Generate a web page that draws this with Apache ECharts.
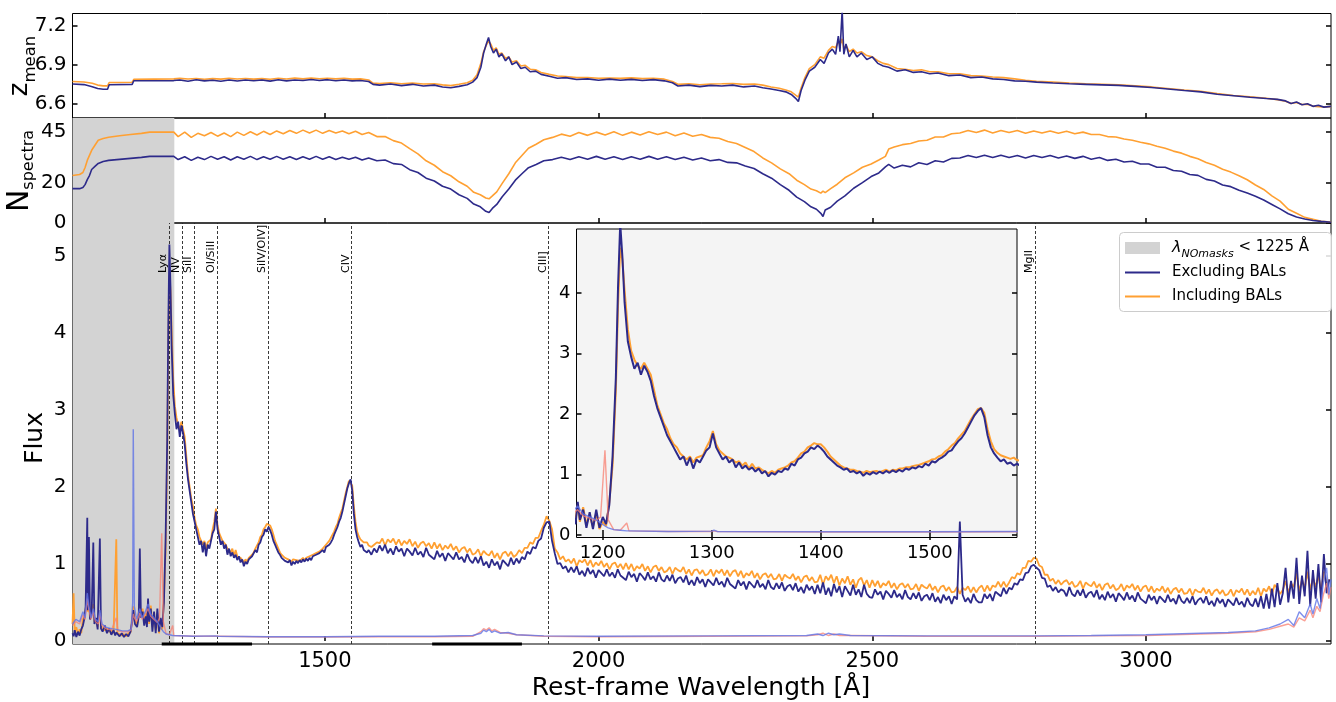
<!DOCTYPE html>
<html><head><meta charset="utf-8">
<script src="https://cdn.jsdelivr.net/npm/echarts@6/dist/echarts.min.js"></script>
<style>html,body{margin:0;padding:0;background:#fff}#c{width:1336px;height:702px}</style>
</head><body><div id="c"></div><script>
// ---------------- DATA ----------------
const xTicks = [1500, 2000, 2500, 3000];
const zTicks = [6.6, 6.9, 7.2];
const nTicks = [0, 20, 45];
const fluxTicks = [0, 1, 2, 3, 4, 5];
const insetXTicks = [1200, 1300, 1400, 1500];
const insetYTicks = [0, 1, 2, 3, 4];
const greyEnd = 1225;
const lineWaves = [1216, 1240, 1262, 1304, 1396, 1549, 1909, 2798];
const lineNames = ['Lyα', 'NV', 'SiII', 'OI/SiII', 'SiIV/OIV]', 'CIV', 'CIII]', 'MgII'];
const axisBarWave = [1202, 1367, 1696, 1860];

// blue side (<1600 A)
const fluxWaveBlue = [
1039,1041,1043,1046,1049,1052,1055,1058,1061,1063,
1066,1067,1069,1071,1074,1077,1079,1082,1085,1089,
1091,1094,1098,1102,1106,1110,1114,1117,1119,1121,
1125,1129,1133,1137,1141,1145,1148,1150,1153,1157,
1160,1162,1164,1167,1170,1173,1175,1177,1179,1182,
1185,1188,1191,1194,1197,1200,1203,1206,1209,1212,
1214,1216,1218,1220,
1223,1226,1229,1232,1235,1238,1241,1244,1247,1250,
1253,1256,1259,1262,1265,1268,1271,1274,1277,1280,
1283,1286,1289,1292,1295,1298,1301,1304,1307,1310,
1313,1316,1319,1322,1325,1328,1331,1334,1337,1340,
1343,1346,1349,1352,1355,1358,1361,1364,1367,1370,
1373,1376,1379,1382,1385,1388,1391,1394,1397,1400,
1403,1406,1409,1412,1415,1418,1421,1424,1427,1430,
1433,1436,1439,1442,1445,1448,1451,1454,1457,1460,
1463,1466,1469,1472,1475,1478,1481,1484,1487,1490,
1493,1496,1499,1502,1505,1508,1511,1514,1517,1520,
1523,1526,1529,1532,1535,1538,1541,1544,1547,1550,
1553,1556,1559,1562,1565,1568,1571,1574,1577,1580,
1585,1590,1595];
const fluxExclBlue = [
0.10,0.06,0.14,0.05,0.12,0.07,0.15,0.20,0.30,0.45,
1.60,0.40,1.35,0.28,0.35,1.28,0.22,0.30,0.15,1.33,
0.16,0.12,0.20,0.10,0.16,0.08,0.14,0.07,0.11,0.09,
0.06,0.10,0.05,0.09,0.06,0.12,0.25,0.40,0.22,0.18,
0.32,1.20,0.30,0.38,0.20,0.32,0.18,0.55,0.25,0.42,
0.12,0.38,0.10,0.42,0.12,0.30,0.18,0.50,1.30,2.60,
4.10,5.15,4.60,3.85,
3.20,2.95,2.75,2.85,2.65,2.80,2.70,2.55,2.30,2.10,
1.95,1.80,1.65,1.55,1.45,1.35,1.25,1.30,1.15,1.28,
1.10,1.25,1.20,1.30,1.40,1.45,1.68,1.45,1.35,1.25,
1.30,1.20,1.25,1.12,1.20,1.10,1.15,1.08,1.12,1.05,
1.10,1.02,1.06,0.97,1.03,1.00,1.06,1.04,1.10,1.08,
1.18,1.15,1.25,1.28,1.35,1.38,1.45,1.42,1.48,1.44,
1.38,1.30,1.25,1.20,1.15,1.12,1.08,1.10,1.04,1.06,
1.02,1.05,0.98,1.03,1.00,1.04,1.01,1.05,1.02,1.06,
1.03,1.07,1.04,1.08,1.05,1.10,1.08,1.12,1.10,1.14,
1.12,1.18,1.15,1.22,1.20,1.25,1.28,1.32,1.38,1.40,
1.48,1.55,1.60,1.68,1.78,1.88,1.98,2.05,2.10,1.95,
1.65,1.45,1.35,1.28,1.22,1.25,1.18,1.20,1.15,1.18,
1.12,1.20,1.15];
const fluxInclBlue = [
0.22,0.62,0.12,0.18,0.08,0.15,0.10,0.28,0.32,0.40,
0.62,0.38,0.45,0.30,0.32,0.48,0.25,0.28,0.18,0.40,
0.20,0.15,0.14,0.16,0.12,0.14,0.10,0.12,1.32,0.10,
0.09,0.07,0.09,0.06,0.10,0.11,0.30,0.45,0.28,0.20,
0.36,0.48,0.32,0.42,0.28,0.36,0.25,0.50,0.22,0.46,
0.18,0.32,0.14,0.36,0.10,0.22,0.15,0.55,1.15,2.40,
3.80,4.75,4.55,4.05,
3.40,3.05,2.90,2.80,2.75,2.85,2.75,2.65,2.40,2.15,
2.00,1.85,1.75,1.60,1.50,1.45,1.35,1.30,1.25,1.30,
1.20,1.28,1.30,1.32,1.45,1.55,1.72,1.50,1.40,1.35,
1.30,1.28,1.25,1.20,1.22,1.15,1.20,1.10,1.18,1.10,
1.12,1.08,1.05,1.02,1.06,1.03,1.08,1.10,1.12,1.15,
1.20,1.22,1.28,1.35,1.38,1.45,1.48,1.52,1.50,1.50,
1.45,1.38,1.30,1.25,1.20,1.15,1.12,1.10,1.08,1.08,
1.06,1.05,1.03,1.06,1.04,1.05,1.06,1.04,1.06,1.08,
1.05,1.08,1.07,1.10,1.10,1.12,1.12,1.14,1.15,1.16,
1.18,1.20,1.22,1.25,1.26,1.30,1.32,1.38,1.42,1.48,
1.52,1.60,1.66,1.72,1.82,1.92,2.00,2.08,2.10,2.02,
1.75,1.55,1.42,1.36,1.32,1.30,1.28,1.26,1.28,1.24,
1.22,1.25,1.28];

// red side (>=1600 A, 5 A steps)
const fluxWaveRed = [
1600,1605,1610,1615,1620,1625,1630,1635,1640,1645,
1650,1655,1660,1665,1670,1675,1680,1685,1690,1695,
1700,1705,1710,1715,1720,1725,1730,1735,1740,1745,
1750,1755,1760,1765,1770,1775,1780,1785,1790,1795,
1800,1805,1810,1815,1820,1825,1830,1835,1840,1845,
1850,1855,1860,1865,1870,1875,1880,1885,1890,1895,
1900,1905,1910,1915,1920,1925,1930,1935,1940,1945,
1950,1955,1960,1965,1970,1975,1980,1985,1990,1995,
2000,2005,2010,2015,2020,2025,2030,2035,2040,2045,
2050,2055,2060,2065,2070,2075,2080,2085,2090,2095,
2100,2105,2110,2115,2120,2125,2130,2135,2140,2145,
2150,2155,2160,2165,2170,2175,2180,2185,2190,2195,
2200,2205,2210,2215,2220,2225,2230,2235,2240,2245,
2250,2255,2260,2265,2270,2275,2280,2285,2290,2295,
2300,2305,2310,2315,2320,2325,2330,2335,2340,2345,
2350,2355,2360,2365,2370,2375,2380,2385,2390,2395,
2400,2405,2410,2415,2420,2425,2430,2435,2440,2445,
2450,2455,2460,2465,2470,2475,2480,2485,2490,2495,
2500,2505,2510,2515,2520,2525,2530,2535,2540,2545,
2550,2555,2560,2565,2570,2575,2580,2585,2590,2595,
2600,2605,2610,2615,2620,2625,2630,2635,2640,2645,
2650,2655,2660,2665,2670,2675,2680,2685,2690,2695,
2700,2705,2710,2715,2720,2725,2730,2735,2740,2745,
2750,2755,2760,2765,2770,2775,2780,2785,2790,2795,
2800,2805,2810,2815,2820,2825,2830,2835,2840,2845,
2850,2855,2860,2865,2870,2875,2880,2885,2890,2895,
2900,2905,2910,2915,2920,2925,2930,2935,2940,2945,
2950,2955,2960,2965,2970,2975,2980,2985,2990,2995,
3000,3005,3010,3015,3020,3025,3030,3035,3040,3045,
3050,3055,3060,3065,3070,3075,3080,3085,3090,3095,
3100,3105,3110,3115,3120,3125,3130,3135,3140,3145,
3150,3155,3160,3165,3170,3175,3180,3185,3190,3195,
3200,3205,3210,3215,3220,3225,3230,3235,3240,3245,
3250,3255,3260,3265,3270,3275,3280,3285,3290,3295,
3300,3305,3310,3315,3320,3325,3330,3335];
const fluxExclRed = [
1.24,1.17,1.25,1.14,1.20,1.12,1.23,1.16,1.20,1.10,
1.20,1.16,1.11,1.21,1.12,1.16,1.09,1.21,1.12,1.09,
1.06,1.17,1.09,1.14,1.04,1.14,1.10,1.06,1.15,1.06,
1.09,1.02,1.13,1.05,1.01,1.09,1.01,1.10,0.98,1.03,
0.95,1.06,0.98,1.03,0.93,1.05,1.01,0.97,1.08,0.99,
1.07,1.01,1.09,1.06,1.16,1.13,1.22,1.20,1.30,1.33,
1.47,1.54,1.55,1.30,1.14,1.00,1.01,0.94,0.97,0.89,
0.96,0.89,0.97,0.86,0.91,0.84,0.95,0.87,0.92,0.82,
0.92,0.88,0.84,0.93,0.84,0.89,0.82,0.93,0.85,0.82,
0.79,0.90,0.83,0.87,0.77,0.88,0.84,0.79,0.89,0.80,
0.84,0.77,0.89,0.80,0.77,0.85,0.78,0.86,0.75,0.81,
0.83,0.76,0.85,0.73,0.79,0.72,0.83,0.75,0.80,0.70,
0.80,0.76,0.72,0.82,0.73,0.77,0.70,0.82,0.74,0.71,
0.68,0.79,0.72,0.77,0.67,0.77,0.73,0.69,0.79,0.70,
0.74,0.67,0.79,0.70,0.67,0.75,0.68,0.76,0.65,0.71,
0.73,0.66,0.75,0.64,0.70,0.62,0.73,0.66,0.71,0.61,
0.73,0.62,0.76,0.60,0.69,0.58,0.74,0.63,0.71,0.57,
0.71,0.65,0.59,0.73,0.60,0.67,0.57,0.73,0.61,0.57,
0.56,0.67,0.60,0.64,0.54,0.65,0.61,0.56,0.66,0.57,
0.61,0.54,0.66,0.57,0.54,0.62,0.55,0.63,0.52,0.58,
0.60,0.53,0.62,0.51,0.57,0.49,0.60,0.53,0.58,0.48,
0.58,0.54,1.55,0.60,0.51,0.56,0.49,0.61,0.53,0.50,
0.50,0.61,0.55,0.61,0.52,0.64,0.61,0.58,0.69,0.61,
0.69,0.67,0.75,0.73,0.80,0.79,0.88,0.89,0.97,0.99,
0.95,0.92,0.82,0.81,0.70,0.72,0.65,0.70,0.63,0.67,
0.65,0.58,0.70,0.61,0.58,0.66,0.59,0.67,0.56,0.62,
0.64,0.57,0.66,0.54,0.60,0.53,0.64,0.56,0.61,0.51,
0.62,0.58,0.53,0.63,0.54,0.59,0.51,0.63,0.55,0.52,
0.49,0.60,0.53,0.58,0.48,0.58,0.54,0.50,0.60,0.51,
0.55,0.48,0.60,0.52,0.49,0.56,0.49,0.58,0.47,0.53,
0.56,0.49,0.58,0.47,0.52,0.45,0.56,0.49,0.54,0.44,
0.54,0.50,0.46,0.56,0.47,0.51,0.44,0.56,0.48,0.45,
0.55,0.44,0.58,0.42,0.61,0.42,0.68,0.44,0.75,0.47,
0.62,0.95,0.50,0.78,0.55,1.08,0.48,0.85,0.58,1.17,
0.45,0.92,0.55,1.00,0.50,1.13,0.62,0.80];
const fluxInclRed = [
1.27,1.33,1.24,1.32,1.28,1.33,1.25,1.32,1.24,1.30,
1.26,1.32,1.23,1.29,1.21,1.27,1.29,1.23,1.27,1.20,
1.28,1.20,1.26,1.18,1.24,1.20,1.26,1.18,1.23,1.15,
1.20,1.22,1.15,1.20,1.12,1.14,1.19,1.10,1.17,1.13,
1.11,1.17,1.08,1.14,1.06,1.14,1.16,1.10,1.16,1.09,
1.12,1.18,1.14,1.21,1.21,1.28,1.26,1.34,1.34,1.43,
1.51,1.62,1.56,1.45,1.20,1.15,1.06,1.10,1.03,1.06,
1.01,1.07,0.97,1.05,1.02,1.06,0.98,1.05,0.96,1.02,
0.98,1.04,0.96,1.01,0.93,1.00,1.02,0.95,1.00,0.93,
1.01,0.93,1.00,0.91,0.97,0.94,1.00,0.91,0.97,0.89,
0.96,0.98,0.91,0.96,0.89,0.91,0.96,0.87,0.95,0.92,
0.90,0.96,0.87,0.93,0.85,0.92,0.93,0.87,0.92,0.85,
0.87,0.93,0.84,0.92,0.88,0.93,0.85,0.92,0.84,0.90,
0.92,0.84,0.91,0.82,0.88,0.85,0.91,0.82,0.88,0.80,
0.86,0.88,0.82,0.87,0.80,0.81,0.87,0.78,0.86,0.83,
0.81,0.87,0.79,0.84,0.76,0.83,0.85,0.78,0.83,0.76,
0.77,0.86,0.73,0.84,0.79,0.86,0.75,0.84,0.72,0.81,
0.75,0.84,0.73,0.80,0.69,0.79,0.82,0.72,0.79,0.69,
0.79,0.71,0.78,0.69,0.75,0.72,0.78,0.69,0.75,0.67,
0.73,0.75,0.69,0.74,0.67,0.68,0.74,0.65,0.73,0.70,
0.68,0.74,0.66,0.71,0.63,0.70,0.72,0.65,0.70,0.63,
0.64,0.70,0.61,0.69,0.66,0.71,0.63,0.70,0.63,0.69,
0.72,0.64,0.72,0.65,0.72,0.70,0.77,0.70,0.77,0.70,
0.76,0.83,0.81,0.88,0.86,0.95,0.95,1.04,1.03,1.08,
1.07,0.98,0.96,0.86,0.86,0.78,0.81,0.74,0.79,0.73,
0.77,0.79,0.73,0.77,0.70,0.72,0.78,0.68,0.76,0.73,
0.71,0.77,0.69,0.74,0.66,0.73,0.75,0.68,0.73,0.66,
0.68,0.74,0.65,0.72,0.69,0.74,0.66,0.72,0.64,0.70,
0.72,0.64,0.71,0.63,0.68,0.65,0.71,0.63,0.69,0.61,
0.67,0.69,0.63,0.68,0.61,0.62,0.68,0.59,0.67,0.64,
0.63,0.69,0.61,0.67,0.59,0.65,0.67,0.61,0.66,0.59,
0.61,0.67,0.58,0.66,0.63,0.68,0.60,0.67,0.59,0.65,
0.60,0.69,0.58,0.68,0.64,0.71,0.60,0.73,0.68,0.61,
0.66,0.78,0.62,0.75,0.70,0.88,0.64,0.80,0.68,0.90,
0.66,0.82,0.70,0.85,0.65,0.90,0.72,0.80];

const errWave = [1039,1045,1052,1058,1062,1066,1069,1073,1077,1081,1086,1089,1093,1100,1110,1119,1122,1130,1140,1146,1149,1150,1152,1156,1162,1166,1172,1177,1182,1188,1194,1198,1202,1205,1210,1216,1222,1224,1260,1300,1302,1305,1400,1500,1600,1700,1770,1785,1790,1795,1800,1805,1810,1820,1835,1850,1900,2000,2200,2380,2400,2410,2420,2430,2440,2460,2600,2800,2900,3000,3100,3150,3200,3225,3245,3260,3270,3280,3290,3300,3305,3312,3318,3324,3330,3334,3338];
const errExcl = [0.22,0.28,0.25,0.38,0.30,0.62,0.45,0.30,0.42,0.28,0.25,0.40,0.22,0.18,0.16,0.15,0.14,0.13,0.13,0.15,0.50,2.75,0.45,0.28,0.42,0.30,0.38,0.48,0.35,0.30,0.25,0.20,0.15,0.12,0.09,0.08,0.07,0.07,0.06,0.065,0.08,0.06,0.055,0.055,0.06,0.06,0.07,0.10,0.14,0.12,0.15,0.11,0.13,0.10,0.11,0.08,0.065,0.06,0.065,0.07,0.09,0.07,0.10,0.08,0.09,0.07,0.065,0.065,0.07,0.08,0.10,0.11,0.13,0.17,0.22,0.28,0.20,0.38,0.30,0.48,0.35,0.55,0.42,0.75,0.95,0.60,0.80];
const errIncl = [0.20,0.25,0.22,0.34,0.28,0.55,0.40,0.28,0.38,0.25,0.22,0.36,0.20,0.16,0.14,0.30,0.13,0.12,0.12,0.14,0.30,0.35,0.30,0.25,0.36,0.28,0.35,0.42,0.32,0.28,0.24,0.30,1.40,0.25,0.09,0.08,0.20,0.07,0.06,0.06,0.07,0.06,0.05,0.05,0.055,0.055,0.06,0.12,0.16,0.14,0.17,0.13,0.15,0.11,0.10,0.08,0.06,0.055,0.06,0.065,0.08,0.10,0.07,0.09,0.07,0.07,0.06,0.06,0.065,0.07,0.09,0.10,0.12,0.15,0.19,0.22,0.18,0.30,0.26,0.40,0.30,0.45,0.38,0.60,0.75,0.55,0.70];

const zWave = [1039,1060,1075,1085,1095,1103,1106,1148,1151,1224,1235,1250,1265,1280,1295,1310,1325,1340,1355,1370,1385,1400,1415,1430,1445,1460,1475,1490,1505,1520,1535,1550,1565,1580,1588,1600,1620,1640,1660,1680,1700,1715,1730,1745,1760,1770,1778,1785,1790,1795,1799,1803,1808,1813,1818,1823,1830,1836,1842,1850,1858,1866,1875,1885,1895,1910,1925,1940,1960,1980,2000,2020,2040,2060,2080,2100,2120,2135,2145,2165,2185,2205,2225,2245,2265,2285,2300,2315,2330,2342,2352,2360,2365,2370,2377,2385,2395,2405,2412,2420,2427,2433,2438,2441,2445,2448,2452,2458,2465,2472,2480,2490,2500,2510,2520,2530,2545,2560,2575,2590,2605,2620,2640,2660,2680,2700,2720,2740,2760,2780,2800,2830,2860,2890,2920,2950,2980,3010,3040,3070,3100,3130,3160,3190,3220,3240,3255,3265,3275,3285,3295,3305,3315,3325,3338];
const zExcl = [6.750,6.746,6.730,6.716,6.710,6.710,6.745,6.748,6.776,6.777,6.781,6.772,6.783,6.775,6.780,6.772,6.781,6.774,6.782,6.776,6.781,6.773,6.784,6.775,6.782,6.777,6.785,6.778,6.784,6.776,6.782,6.775,6.778,6.770,6.748,6.742,6.750,6.738,6.748,6.735,6.742,6.728,6.722,6.732,6.745,6.765,6.800,6.880,6.990,7.060,7.110,7.040,6.990,7.020,6.960,6.985,6.930,6.960,6.900,6.920,6.870,6.880,6.845,6.850,6.825,6.810,6.795,6.800,6.785,6.790,6.780,6.788,6.779,6.786,6.778,6.784,6.775,6.760,6.735,6.742,6.730,6.740,6.735,6.742,6.728,6.735,6.722,6.712,6.700,6.690,6.670,6.640,6.615,6.700,6.780,6.850,6.880,6.940,6.910,6.990,7.020,6.980,7.120,7.000,7.320,6.980,7.060,6.960,7.010,6.960,6.990,6.940,6.960,6.910,6.890,6.880,6.850,6.860,6.840,6.845,6.830,6.835,6.815,6.820,6.800,6.805,6.790,6.785,6.775,6.772,6.765,6.758,6.752,6.748,6.744,6.740,6.732,6.724,6.712,6.700,6.690,6.672,6.660,6.648,6.638,6.632,6.620,6.600,6.612,6.590,6.598,6.578,6.586,6.572,6.578];
const zIncl = [6.770,6.766,6.756,6.742,6.736,6.736,6.762,6.764,6.786,6.790,6.794,6.789,6.793,6.787,6.792,6.788,6.794,6.789,6.793,6.788,6.792,6.787,6.795,6.789,6.796,6.790,6.797,6.791,6.795,6.790,6.794,6.788,6.790,6.782,6.758,6.754,6.760,6.752,6.758,6.750,6.752,6.744,6.738,6.748,6.760,6.780,6.822,6.910,7.000,7.050,7.080,7.060,7.010,7.030,6.980,6.990,6.950,6.960,6.920,6.930,6.890,6.895,6.865,6.860,6.840,6.825,6.812,6.808,6.800,6.800,6.795,6.797,6.794,6.798,6.792,6.795,6.788,6.770,6.748,6.752,6.745,6.750,6.752,6.755,6.748,6.750,6.742,6.728,6.718,6.705,6.690,6.665,6.650,6.720,6.800,6.870,6.900,6.960,6.950,7.010,7.040,7.030,7.080,7.050,7.100,7.020,7.050,7.000,7.020,6.990,7.000,6.970,6.960,6.930,6.910,6.900,6.870,6.865,6.855,6.860,6.845,6.845,6.830,6.830,6.815,6.812,6.805,6.800,6.790,6.780,6.772,6.765,6.758,6.752,6.748,6.744,6.736,6.728,6.716,6.704,6.694,6.676,6.662,6.652,6.640,6.630,6.618,6.600,6.608,6.592,6.594,6.580,6.576,6.574,6.576];

const nWave = [1039,1052,1058,1062,1066,1070,1074,1080,1086,1095,1105,1125,1145,1165,1180,1224,1232,1244,1256,1268,1280,1292,1304,1316,1328,1340,1352,1364,1376,1388,1400,1412,1424,1436,1448,1460,1472,1484,1496,1508,1520,1532,1544,1556,1568,1580,1595,1610,1625,1640,1655,1670,1685,1700,1715,1730,1745,1760,1772,1784,1794,1800,1806,1814,1824,1836,1848,1860,1872,1886,1900,1916,1932,1948,1964,1980,1996,2012,2028,2044,2060,2076,2092,2108,2124,2140,2156,2172,2188,2204,2220,2236,2252,2268,2284,2300,2316,2332,2348,2362,2376,2388,2398,2406,2410,2414,2424,2436,2450,2466,2482,2498,2512,2524,2530,2540,2555,2570,2585,2600,2615,2630,2645,2660,2675,2690,2705,2720,2735,2750,2765,2780,2795,2810,2825,2840,2855,2870,2885,2900,2915,2930,2945,2960,2975,2990,3005,3020,3035,3050,3065,3080,3095,3110,3125,3140,3155,3170,3185,3200,3215,3230,3245,3260,3275,3290,3305,3320,3338];
const nExcl = [17.0,17.0,17.6,19.0,21.5,23.5,26.5,28.0,29.5,30.5,31.0,31.5,32.0,32.5,33.0,33.0,31.4,32.8,31.0,32.6,31.4,33.0,31.6,32.8,31.2,32.8,31.6,33.0,31.4,32.8,31.6,33.0,31.6,32.8,31.4,32.8,31.6,33.0,31.6,32.8,31.4,32.6,31.6,32.6,31.2,32.2,30.8,31.2,29.4,29.0,26.4,25.0,22.2,20.8,18.2,16.8,14.0,12.2,9.4,8.0,5.8,5.2,7.2,9.2,13.0,16.8,21.2,24.4,27.4,29.0,30.8,31.4,32.6,31.4,32.8,31.6,33.0,31.6,32.8,31.4,32.8,31.6,33.0,31.6,32.8,31.4,32.6,31.2,32.2,30.8,31.4,30.0,29.8,28.2,27.0,24.4,22.2,19.0,16.2,12.8,10.6,8.0,6.8,4.8,3.2,6.4,7.8,10.8,13.4,17.2,20.0,23.0,24.8,27.8,29.0,27.2,28.6,27.8,29.8,29.0,30.8,30.2,32.0,32.2,33.4,32.4,33.6,32.4,33.6,32.4,33.4,32.2,33.4,32.4,33.4,32.2,33.2,32.0,33.0,31.6,32.4,31.0,31.6,30.2,30.6,29.2,29.2,27.6,27.6,26.0,25.6,24.0,23.6,21.6,20.8,18.8,18.0,16.2,14.8,13.2,11.4,9.2,7.0,4.6,3.0,2.0,1.2,0.8,0.4];
const nIncl = [23.5,24.0,25.0,27.5,31.0,33.5,36.0,38.5,41.0,41.8,42.5,43.2,43.8,44.4,45.0,45.0,42.8,45.0,42.4,44.4,43.2,44.8,43.0,44.6,42.8,45.0,43.4,45.2,43.6,45.4,43.8,45.6,44.2,45.8,44.4,46.0,44.6,46.0,44.4,45.8,44.6,45.6,44.2,45.4,43.8,44.8,42.8,42.8,40.8,39.6,36.8,34.2,30.8,28.6,25.4,23.4,20.4,18.2,15.2,14.0,12.4,12.0,13.4,15.4,19.6,24.4,29.8,33.4,37.0,39.0,41.2,42.4,44.0,43.0,44.8,43.4,45.0,43.6,45.2,43.4,45.0,43.6,45.2,43.8,45.0,43.2,44.6,43.0,43.8,42.4,42.0,40.4,39.4,37.4,35.4,32.2,29.8,26.8,24.4,21.2,19.0,16.8,16.0,14.8,15.8,15.0,17.0,19.2,22.4,24.8,27.6,29.2,31.2,33.0,36.6,37.6,38.8,39.4,40.6,41.0,42.6,42.6,44.2,44.6,45.8,44.8,46.0,44.6,45.8,44.8,45.8,44.4,45.6,44.6,45.6,44.4,45.4,44.2,45.0,43.8,43.8,42.8,42.6,41.6,41.0,40.0,39.2,38.0,37.0,35.6,34.6,33.0,31.8,30.0,28.6,26.6,25.2,23.4,21.4,18.8,16.6,13.4,10.8,6.8,4.8,2.8,1.9,0.9,0.5];

// ---------------- CHART ----------------
const F = 'DejaVu Sans';
const DARK = '#2d2a8a', ORANGE = '#ffa032', EBLUE = 'rgba(95,115,230,0.8)', ERED = 'rgba(248,128,114,0.75)';
const XMIN = 1039, XMAX = 3338;
const IX0 = 1175.9, IX1 = 1580;
const fluxWave = fluxWaveBlue.concat(fluxWaveRed);
const fluxExcl = fluxExclBlue.concat(fluxExclRed);
const fluxIncl = fluxInclBlue.concat(fluxInclRed);
[[fluxWaveBlue,fluxExclBlue,fluxInclBlue,'fluxB'],[fluxWaveRed,fluxExclRed,fluxInclRed,'fluxR'],[errWave,errExcl,errIncl,'err'],[zWave,zExcl,zIncl,'z'],[nWave,nExcl,nIncl,'n']].forEach(a=>{
  if (a[0].length!==a[1].length||a[0].length!==a[2].length) console.error('length mismatch '+a[3]+' '+a[0].length+' '+a[1].length+' '+a[2].length);
});
const zip = (w, v, lo, hi) => w.map((x,i)=>[x, v[i]]).filter(p => lo === undefined || (p[0] >= lo && p[0] <= hi));
const fmt = v => String(v);

function xAx(grid, pos, label, min, max, ticks, fs) {
  return {type:'value', gridIndex:grid, position:pos, min, max,
    axisLine:{show:false}, splitLine:{show:false},
    axisTick:{show:true, inside:true, length:5, customValues:ticks, lineStyle:{color:'#000', width:1.5}},
    axisLabel:{show:label, customValues:ticks, formatter:fmt, fontSize:fs||21, color:'#000', fontFamily:F, margin:7}};
}
function yAx(grid, pos, label, min, max, ticks, fs) {
  return {type:'value', gridIndex:grid, position:pos, min, max,
    axisLine:{show:false}, splitLine:{show:false},
    axisTick:{show:true, inside:true, length:5, customValues:ticks, lineStyle:{color:'#000', width:1.5}},
    axisLabel:{show:label, customValues:ticks, formatter:fmt, fontSize:fs||20, color:'#000', fontFamily:F, margin:6}};
}
function ln(name, xi, yi, data, color, w, z) {
  return {type:'line', name, xAxisIndex:xi, yAxisIndex:yi, data, showSymbol:false, symbol:'none',
    lineStyle:{color, width:w}, itemStyle:{color}, z, silent:true, animation:false, emphasis:{disabled:true}};
}

const ZMIN=6.488, ZMAX=7.295, NMIN=0, NMAX=52, FMIN=-0.04, FMAX=5.43, IYMIN=-0.04, IYMAX=5.06;

const option = {
  animation:false,
  backgroundColor:'#ffffff',
  textStyle:{fontFamily:F},
  grid:[
    {left:72.5, right:5, top:13.5, height:104.5, show:true, borderColor:'#000', borderWidth:1, backgroundColor:'transparent'},
    {left:72.5, right:5, top:118, height:105, show:true, borderColor:'#000', borderWidth:1, backgroundColor:'transparent'},
    {left:72.5, right:5, top:223, height:421, show:true, borderColor:'#000', borderWidth:1, backgroundColor:'transparent'},
    {left:576.5, top:229, width:440.5, height:308.5, show:true, borderColor:'#000', borderWidth:1, backgroundColor:'#f4f4f4'}
  ],
  xAxis:[
    xAx(0,'bottom',false,XMIN,XMAX,xTicks),
    xAx(1,'bottom',false,XMIN,XMAX,xTicks),
    xAx(2,'bottom',true,XMIN,XMAX,xTicks),
    xAx(3,'bottom',true,IX0,IX1,insetXTicks,18),
    xAx(3,'top',false,IX0,IX1,insetXTicks)
  ],
  yAxis:[
    yAx(0,'left',true,ZMIN,ZMAX,zTicks), yAx(0,'right',false,ZMIN,ZMAX,zTicks),
    yAx(1,'left',true,NMIN,NMAX,nTicks), yAx(1,'right',false,NMIN,NMAX,nTicks),
    yAx(2,'left',true,FMIN,FMAX,fluxTicks), yAx(2,'right',false,FMIN,FMAX,fluxTicks),
    yAx(3,'left',true,IYMIN,IYMAX,insetYTicks,18), yAx(3,'right',false,IYMIN,IYMAX,insetYTicks)
  ],
  series:[
    ln('zIncl',0,0,zip(zWave,zIncl),ORANGE,1.6,2),
    ln('zExcl',0,0,zip(zWave,zExcl),DARK,1.6,3),
    {type:'line', xAxisIndex:1, yAxisIndex:2, data:[], silent:true, z:1,
      markArea:{silent:true, itemStyle:{color:'#d3d3d3'}, data:[[{xAxis:XMIN},{xAxis:greyEnd}]]}},
    ln('nIncl',1,2,zip(nWave,nIncl),ORANGE,1.6,2),
    ln('nExcl',1,2,zip(nWave,nExcl),DARK,1.6,3),
    {type:'line', xAxisIndex:2, yAxisIndex:4, data:[], silent:true, z:1,
      markArea:{silent:true, itemStyle:{color:'#d3d3d3'}, data:[[{xAxis:XMIN},{xAxis:greyEnd}]]},
      markLine:{silent:true, symbol:['none','none'], label:{show:false}, animation:false,
        lineStyle:{color:'#222', type:[3,2], width:0.9}, data:lineWaves.map(w=>({xAxis:w}))}},
    ln('fluxIncl',2,4,zip(fluxWave,fluxIncl),ORANGE,1.8,4),
    ln('fluxExcl',2,4,zip(fluxWave,fluxExcl),DARK,1.8,5),
    ln('errIncl',2,4,zip(errWave,errIncl),ERED,1.4,6),
    ln('errExcl',2,4,zip(errWave,errExcl),EBLUE,1.4,7),
    Object.assign(ln('axisBars',2,4,[[axisBarWave[0],FMIN],[axisBarWave[1],FMIN],[(axisBarWave[1]+axisBarWave[2])/2,'-'],[axisBarWave[2],FMIN],[axisBarWave[3],FMIN]],'#000',3,8),{clip:false}),
    ln('inFluxIncl',3,6,zip(fluxWave,fluxIncl,1165,1600),ORANGE,2,4),
    ln('inFluxExcl',3,6,zip(fluxWave,fluxExcl,1165,1600),DARK,2,5),
    ln('inErrIncl',3,6,zip(errWave,errIncl,1165,1610),ERED,1.4,6),
    ln('inErrExcl',3,6,zip(errWave,errExcl,1165,1610),EBLUE,1.4,7)
  ]
};

const chart = echarts.init(document.getElementById('c'), null, {renderer:'canvas'});
chart.setOption(option);

const g = [];
lineWaves.forEach((w,i)=>{
  const px = chart.convertToPixel({xAxisIndex:2}, w);
  g.push({type:'text', x:px-0.5, y:273, rotation:Math.PI/2, z:50, silent:true,
    style:{text:lineNames[i], fontSize:11, fontFamily:F, fill:'#000', align:'left', verticalAlign:'bottom'}});
});
g.push({type:'text', x:701, y:688, z:50, silent:true,
  style:{text:'Rest-frame Wavelength [Å]', fontSize:25, fontFamily:F, fill:'#000', align:'center', verticalAlign:'middle'}});
g.push({type:'text', x:35, y:438, rotation:Math.PI/2, z:50, silent:true,
  style:{text:'Flux', fontSize:25, fontFamily:F, fill:'#000', align:'center', verticalAlign:'middle'}});
g.push({type:'text', x:20, y:66, rotation:Math.PI/2, z:50, silent:true,
  style:{text:'{a|z}{b|mean}', fontFamily:F, fill:'#000', align:'center', verticalAlign:'middle',
    rich:{a:{fontSize:26, fontFamily:F, lineHeight:26, verticalAlign:'top'}, b:{fontSize:16.5, fontFamily:F, lineHeight:17, padding:[15,0,0,0], verticalAlign:'top'}}}});
g.push({type:'text', x:20, y:171, rotation:Math.PI/2, z:50, silent:true,
  style:{text:'{a|N}{b|spectra}', fontFamily:F, fill:'#000', align:'center', verticalAlign:'middle',
    rich:{a:{fontSize:30, fontFamily:F, lineHeight:30, verticalAlign:'top'}, b:{fontSize:16, fontFamily:F, lineHeight:16, padding:[16,0,0,0], verticalAlign:'top'}}}});
g.push({type:'rect', z:60, silent:true, shape:{x:1119.5, y:232.5, width:212, height:79, r:4},
  style:{fill:'rgba(255,255,255,0.85)', stroke:'#cccccc', lineWidth:1}});
g.push({type:'rect', z:61, silent:true, shape:{x:1125, y:242, width:35, height:12}, style:{fill:'#d3d3d3'}});
g.push({type:'line', z:61, silent:true, shape:{x1:1125, y1:272.5, x2:1160, y2:272.5}, style:{stroke:DARK, lineWidth:2}});
g.push({type:'line', z:61, silent:true, shape:{x1:1125, y1:296.5, x2:1160, y2:296.5}, style:{stroke:ORANGE, lineWidth:2}});
g.push({type:'text', x:1172, y:240, z:62, silent:true,
  style:{text:'{l|λ}{s|NOmasks}{t| < 1225 Å}', fontFamily:F, fill:'#000', align:'left', verticalAlign:'top',
    rich:{l:{fontSize:16, fontStyle:'italic', fontFamily:F, lineHeight:16, verticalAlign:'top'},
          s:{fontSize:11, fontStyle:'italic', fontFamily:F, lineHeight:11, padding:[9,0,0,0], verticalAlign:'top'},
          t:{fontSize:15, fontFamily:F, lineHeight:16, verticalAlign:'top'}}}});
g.push({type:'text', x:1172, y:272.5, z:62, silent:true,
  style:{text:'Excluding BALs', fontSize:15, fontFamily:F, fill:'#000', align:'left', verticalAlign:'middle'}});
g.push({type:'text', x:1172, y:296.5, z:62, silent:true,
  style:{text:'Including BALs', fontSize:15, fontFamily:F, fill:'#000', align:'left', verticalAlign:'middle'}});
chart.setOption({graphic:{elements:g}});
</script></body></html>
